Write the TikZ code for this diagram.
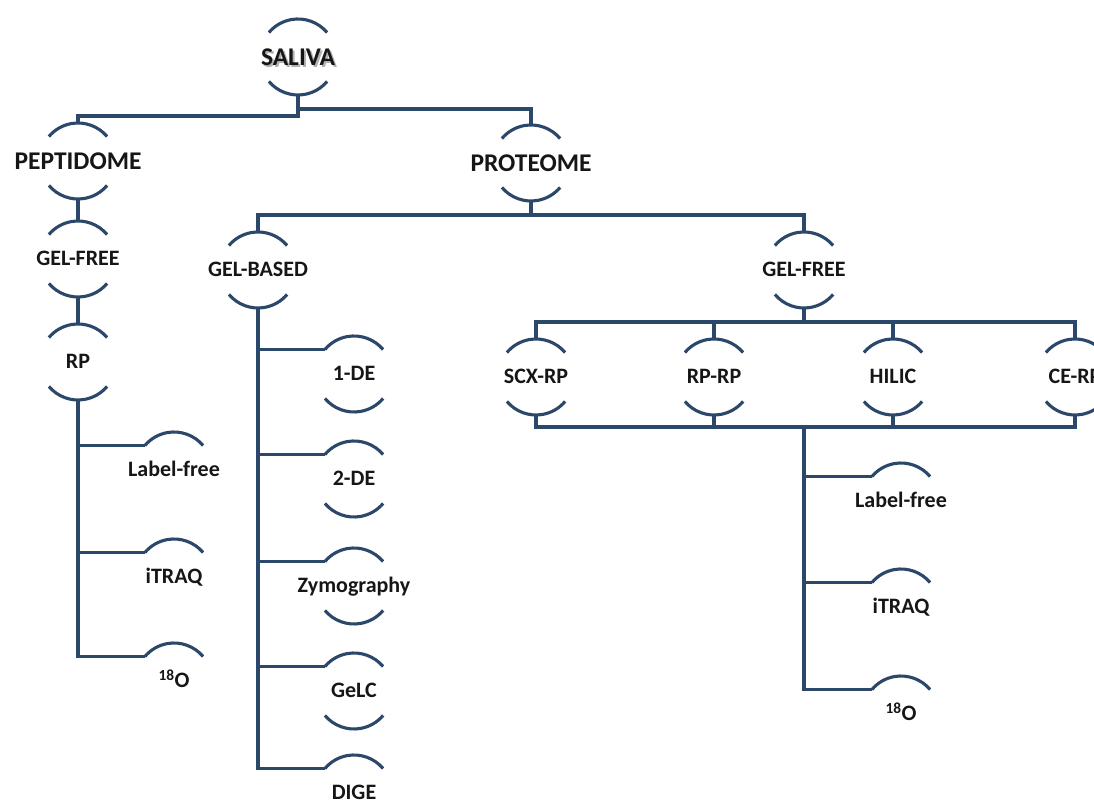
\documentclass[tikz,border=0pt]{standalone}
\usepackage{fontspec}
\setmainfont{Carlito}
\usetikzlibrary{calc}

\definecolor{linecol}{HTML}{2B4769}
\definecolor{txtcol}{HTML}{161616}

\begin{document}
\begin{tikzpicture}[
  x=1pt, y=1pt,
  link/.style={draw=linecol, line width=3.3pt},
  arcline/.style={draw=linecol, line width=3.1pt},
  item/.style={text=txtcol, inner sep=0pt, text depth=0pt, text height=13.9pt,
    font=\bfseries\fontsize{22}{24}\selectfont},
  head/.style={item, text height=16.1pt, font=\bfseries\fontsize{25.5}{28}\selectfont}
]

% Parameters
\def\rad{38}   % radius of the arcs round each label

\useasboundingbox (0,0) rectangle (1094,805);
\clip (0,0) rectangle (1094,805);

% ==========================================================
% Labels
% ==========================================================
\node[head, text=gray!60] (saliva-shadow) at (300,746) {SALIVA};
\node[head] (saliva) at (298,748) {SALIVA};

\node[head] (pept) at (78,644) {PEPTIDOME};
\node[item] (pgel) at (78,546) {GEL-FREE};
\node[item] (prp) at (78,443) {RP};
\node[item] (plabel) at (174,335) {Label-free};
\node[item] (pitraq) at (174,228) {iTRAQ};
\node[item] (po18) at (174,124) {\textsuperscript{18}O};

\node[head] (prot) at (531,642) {PROTEOME};
\node[item] (gbased) at (258,535) {GEL-BASED};
\node[item] (gfree) at (804,535) {GEL-FREE};

\node[item] (de1) at (354,431) {1-DE};
\node[item] (de2) at (354,326) {2-DE};
\node[item] (zymo) at (354,219) {Zymography};
\node[item] (gelc) at (354,114) {GeLC};
\node[item] (dige) at (354,12) {DIGE};

\node[item] (scx) at (536,428) {SCX-RP};
\node[item] (rprp) at (714,428) {RP-RP};
\node[item] (hilic) at (893,428) {HILIC};
\node[item] (cerp) at (1075,428) {CE-RP};

\node[item] (flabel) at (901,304) {Label-free};
\node[item] (fitraq) at (901,198) {iTRAQ};
\node[item] (fo18) at (901,91) {\textsuperscript{18}O};

% ==========================================================
% Arcs round the labels
% ==========================================================
\foreach \n in {saliva,pept,pgel,prp,plabel,pitraq,po18,prot,gbased,gfree,
                de1,de2,zymo,gelc,dige,scx,rprp,hilic,cerp,flabel,fitraq,fo18}{
  \draw[arcline] ([shift={(40:\rad)}]\n.center) arc[start angle=40, end angle=140, radius=\rad];
  \coordinate (\n-top) at ([yshift=\rad]\n.center);
  \coordinate (\n-left) at ([shift={(140:\rad)}]\n.center);
}
\foreach \n in {saliva,pept,pgel,prp,prot,gbased,gfree,
                de1,de2,zymo,gelc,scx,rprp,hilic,cerp}{
  \draw[arcline] ([shift={(220:\rad)}]\n.center) arc[start angle=220, end angle=320, radius=\rad];
  \coordinate (\n-bot) at ([yshift=-\rad]\n.center);
}

% ==========================================================
% Connectors
% ==========================================================
\draw[link] (saliva-bot) -- ++(0,-21) -| (pept-top);
\draw[link] (saliva-bot) -- ++(0,-14) -| (prot-top);

% peptidome branch
\draw[link] (pept-bot) -- (pgel-top);
\draw[link] (pgel-bot) -- (prp-top);
\foreach \n in {plabel,pitraq,po18}
  \draw[link] (prp-bot) |- (\n-left);

% proteome branch
\draw[link] (prot-bot) -- ++(0,-14) -| (gbased-top);
\draw[link] (prot-bot) -- ++(0,-14) -| (gfree-top);
\foreach \n in {de1,de2,zymo,gelc,dige}
  \draw[link] (gbased-bot) |- (\n-left);

\foreach \n in {scx,rprp,hilic,cerp}
  \draw[link] (gfree-bot) -- ++(0,-14) -| (\n-top);
\foreach \n in {scx,rprp,hilic}
  \draw[link] (\n-bot) -- ++(0,-12) -| (cerp-bot);

\coordinate (merge) at ($(gfree-bot |- scx-bot)+(0,-12)$);
\foreach \n in {flabel,fitraq,fo18}
  \draw[link] (merge) |- (\n-left);

\end{tikzpicture}
\end{document}
